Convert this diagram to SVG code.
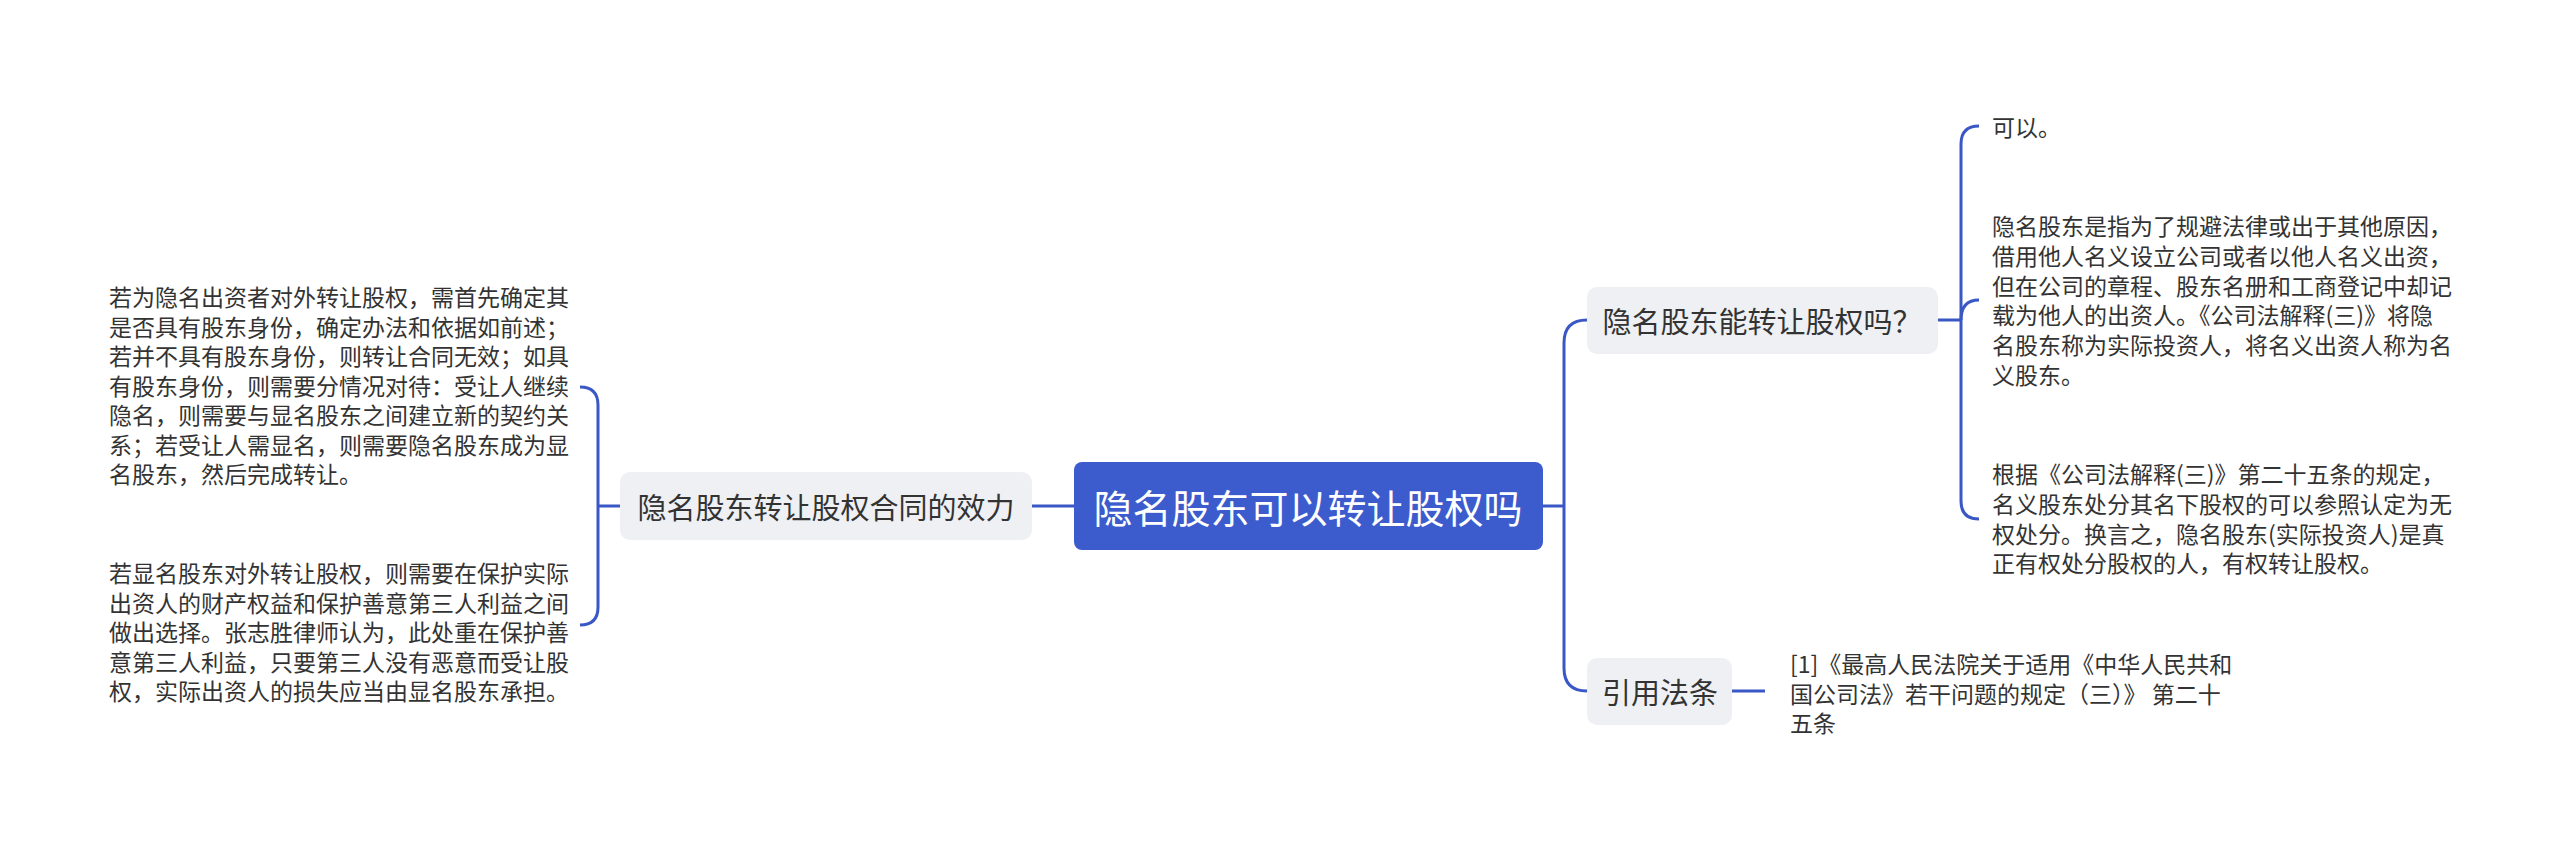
<svg xmlns="http://www.w3.org/2000/svg" width="2560" height="846" viewBox="0 0 2560 846">
<style>
.t{font-family:"Noto Sans CJK SC","Noto Sans",sans-serif;fill:#333;}
.s{font-size:23px;}
.b{font-size:29px;}
.c{fill:none;stroke:#3a57c6;stroke-width:3;}
</style>
<rect x="0" y="0" width="2560" height="846" fill="#fff"/>
<g id="connectors">
<path class="c" d="M1074,506 H1032"/>
<path class="c" d="M620,506 H598"/>
<path class="c" d="M580,387 Q598,387 598,405 V607 Q598,625 580,625"/>
<path class="c" d="M1543,506 H1564"/>
<path class="c" d="M1587,320 Q1564,320 1564,343 V668 Q1564,691 1587,691"/>
<path class="c" d="M1938,320 H1961"/>
<path class="c" d="M1979,126 Q1961,126 1961,144 V501 Q1961,519 1979,519"/>
<path class="c" d="M1961,320 Q1961,300 1979,300"/>
<path class="c" d="M1732,691 H1765"/>
</g>
<g id="root">
<rect x="1074" y="462" width="469" height="88" rx="8" fill="#3c5bcd"/>
<text class="t" x="1308" y="506" font-size="39" style="fill:#fff;font-size:39px" text-anchor="middle" dominant-baseline="central">隐名股东可以转让股权吗</text>
</g>
<g id="left-branch">
<rect x="620" y="472" width="412" height="68" rx="10" fill="#eef0f3"/>
<text class="t b" x="826" y="506" text-anchor="middle" dominant-baseline="central">隐名股东转让股权合同的效力</text>
</g>
<g id="left-text-1">
<text class="t s" x="109" dominant-baseline="central">
<tspan x="109" y="296">若为隐名出资者对外转让股权，需首先确定其</tspan>
<tspan x="109" y="325.5">是否具有股东身份，确定办法和依据如前述；</tspan>
<tspan x="109" y="355">若并不具有股东身份，则转让合同无效；如具</tspan>
<tspan x="109" y="384.5">有股东身份，则需要分情况对待：受让人继续</tspan>
<tspan x="109" y="414">隐名，则需要与显名股东之间建立新的契约关</tspan>
<tspan x="109" y="443.5">系；若受让人需显名，则需要隐名股东成为显</tspan>
<tspan x="109" y="473">名股东，然后完成转让。</tspan>
</text>
</g>
<g id="left-text-2">
<text class="t s" x="109" dominant-baseline="central">
<tspan x="109" y="572">若显名股东对外转让股权，则需要在保护实际</tspan>
<tspan x="109" y="601.5">出资人的财产权益和保护善意第三人利益之间</tspan>
<tspan x="109" y="631">做出选择。张志胜律师认为，此处重在保护善</tspan>
<tspan x="109" y="660.5">意第三人利益，只要第三人没有恶意而受让股</tspan>
<tspan x="109" y="690">权，实际出资人的损失应当由显名股东承担。</tspan>
</text>
</g>
<g id="node-question">
<rect x="1587" y="287" width="351" height="67" rx="10" fill="#eef0f3"/>
<text class="t b" x="1762" y="320" text-anchor="middle" dominant-baseline="central">隐名股东能转让股权吗？</text>
</g>
<g id="child-1">
<text class="t s" x="1992" y="126" dominant-baseline="central">可以。</text>
</g>
<g id="child-2">
<text class="t s" dominant-baseline="central">
<tspan x="1992" y="225">隐名股东是指为了规避法律或出于其他原因，</tspan>
<tspan x="1992" y="254.8">借用他人名义设立公司或者以他人名义出资，</tspan>
<tspan x="1992" y="284.6">但在公司的章程、股东名册和工商登记中却记</tspan>
<tspan x="1992" y="314.4">载为他人的出资人。《公司法解释(三)》将隐</tspan>
<tspan x="1992" y="344.2">名股东称为实际投资人，将名义出资人称为名</tspan>
<tspan x="1992" y="374">义股东。</tspan>
</text>
</g>
<g id="child-3">
<text class="t s" dominant-baseline="central">
<tspan x="1992" y="473">根据《公司法解释(三)》第二十五条的规定，</tspan>
<tspan x="1992" y="503">名义股东处分其名下股权的可以参照认定为无</tspan>
<tspan x="1992" y="532.5">权处分。换言之，隐名股东(实际投资人)是真</tspan>
<tspan x="1992" y="562">正有权处分股权的人，有权转让股权。</tspan>
</text>
</g>
<g id="node-law">
<rect x="1587" y="658" width="145" height="67" rx="10" fill="#eef0f3"/>
<text class="t b" x="1660" y="691" text-anchor="middle" dominant-baseline="central">引用法条</text>
</g>
<g id="law-text">
<text class="t s" dominant-baseline="central">
<tspan x="1790" y="663">[1]《最高人民法院关于适用《中华人民共和</tspan>
<tspan x="1790" y="692.5">国公司法》若干问题的规定（三）》 第二十</tspan>
<tspan x="1790" y="722">五条</tspan>
</text>
</g>
</svg>
